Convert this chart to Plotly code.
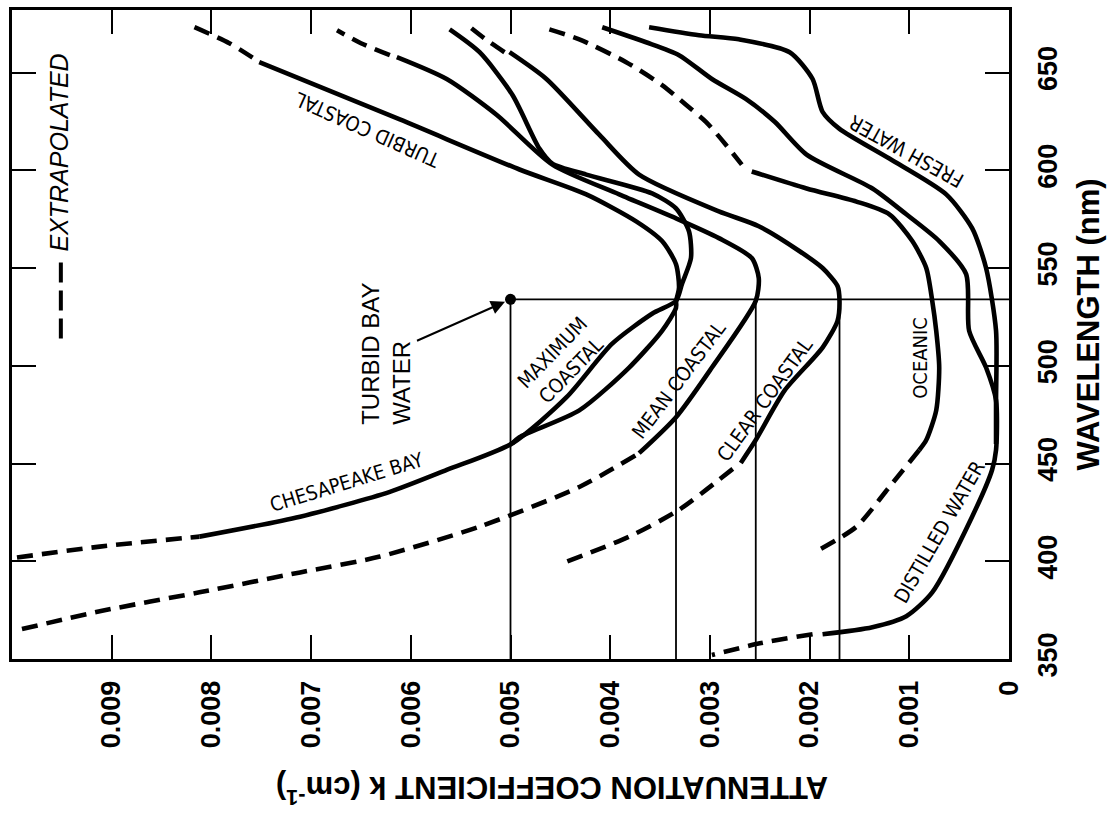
import plotly.graph_objects as go

# ---------------- axis ticks ----------------
K_TICKS = [0, 0.001, 0.002, 0.003, 0.004, 0.005, 0.006, 0.007, 0.008, 0.009]
K_TICK_TEXT = ["0", "0.001", "0.002", "0.003", "0.004", "0.005", "0.006", "0.007", "0.008", "0.009"]
NM_TICKS = [350, 400, 450, 500, 550, 600, 650]
NM_TICK_TEXT = ["350", "400", "450", "500", "550", "600", "650"]

# ---------------- curves (wavelength nm, attenuation k cm^-1) ----------------
TURBID_COASTAL_EXT_NM = [673.2, 665.0, 656.4]
TURBID_COASTAL_EXT_K = [0.00817, 0.00782, 0.00755]
TURBID_COASTAL_NM = [655.3, 626.0, 600.4, 587.7, 573.9, 563.8, 552.0, 539.8, 533.2]
TURBID_COASTAL_K = [0.00752, 0.00611, 0.00491, 0.00424, 0.00374, 0.00348, 0.00334, 0.00331, 0.00334]

CHESAPEAKE_EXT_NM = [401.9, 407.5, 412.6]
CHESAPEAKE_EXT_K = [0.00995, 0.00912, 0.00812]
CHESAPEAKE_NM = [412.6, 422.8, 435.5, 446.7, 460.4, 483.8, 511.3, 526.6, 533.2, 541.9,
                 555.1, 568.8, 580.5, 588.2, 597.8, 603.4, 611.1, 638.5, 660.4, 672.1]
CHESAPEAKE_K = [0.00812, 0.00711, 0.00621, 0.00564, 0.00498, 0.00444, 0.00398, 0.00358, 0.00334, 0.00328,
                0.00319, 0.00321, 0.00334, 0.00358, 0.00424, 0.00458, 0.00471, 0.00498, 0.00531, 0.00561]

MAX_COASTAL_NM = [460.4, 463.5, 477.2, 499.1, 517.9, 529.6, 533.2]
MAX_COASTAL_K = [0.00498, 0.00491, 0.00431, 0.00381, 0.00348, 0.00334, 0.00334]

MEAN_COASTAL_EXT_LOW_NM = [365.3, 374.4, 384.1, 394.3, 402.4, 417.7, 438.0, 454.3]
MEAN_COASTAL_EXT_LOW_K = [0.00990, 0.00912, 0.00812, 0.00711, 0.00631, 0.00531, 0.00431, 0.00374]
MEAN_COASTAL_NM = [455.3, 473.7, 499.1, 533.2, 544.9, 555.1, 565.3, 575.4, 587.7, 602.9, 628.4, 646.7, 657.9]
MEAN_COASTAL_K = [0.00371, 0.00334, 0.00298, 0.00254, 0.00251, 0.00258, 0.00291, 0.00334, 0.00391,
                  0.00458, 0.00514, 0.00564, 0.00614]
MEAN_COASTAL_EXT_HIGH_NM = [658.9, 665.0, 671.6]
MEAN_COASTAL_EXT_HIGH_K = [0.00621, 0.00650, 0.00674]

CLEAR_COASTAL_EXT_LOW_NM = [399.9, 412.6, 426.3, 447.7]
CLEAR_COASTAL_EXT_LOW_K = [0.00443, 0.00381, 0.00331, 0.00276]
CLEAR_COASTAL_NM = [450.3, 462.0, 487.4, 509.3, 523.0, 533.2, 540.8, 550.0, 558.6, 571.4, 579.0,
                    597.8, 618.2, 646.7, 660.4]
CLEAR_COASTAL_K = [0.00269, 0.00254, 0.00225, 0.00187, 0.00172, 0.00170, 0.00172, 0.00187, 0.00210,
                   0.00251, 0.00291, 0.00371, 0.00411, 0.00464, 0.00501]
CLEAR_COASTAL_EXT_HIGH_NM = [660.4, 667.0, 674.2]
CLEAR_COASTAL_EXT_HIGH_K = [0.00506, 0.00525, 0.00543]

OCEANIC_EXT_HIGH_NM = [672.1, 667.0, 655.3, 643.6, 633.5, 624.8, 613.1, 602.9]
OCEANIC_EXT_HIGH_K = [0.00461, 0.00431, 0.00384, 0.00348, 0.00324, 0.00304, 0.00284, 0.00268]
OCEANIC_NM = [599.4, 590.7, 584.0, 577.5, 563.8, 550.0, 533.2, 517.9, 499.1, 477.2, 462.0, 456.9]
OCEANIC_K = [0.00258, 0.00203, 0.00153, 0.00120, 0.00097, 0.00083, 0.00077, 0.00073, 0.00070,
             0.00073, 0.00083, 0.00090]
OCEANIC_EXT_LOW_NM = [456.9, 438.0, 417.7, 406.0]
OCEANIC_EXT_LOW_K = [0.00090, 0.00120, 0.00153, 0.00190]

FRESH_WATER_NM = [673.2, 669.1, 667.0, 660.4, 646.7, 629.9, 621.2, 606.0, 587.7, 570.4, 550.0,
                  517.9, 482.3, 460.0]
FRESH_WATER_K = [0.00361, 0.00311, 0.00271, 0.00220, 0.00197, 0.00187, 0.00170, 0.00120, 0.00063,
                 0.00037, 0.00023, 0.00013, 0.00013, 0.00013]

DISTILLED_NM = [673.2, 665.5, 658.9, 646.7, 636.5, 624.8, 608.0, 590.7, 577.5, 563.8, 546.9, 517.9,
                499.1, 482.3, 456.9, 446.7, 422.8, 384.1, 371.9, 366.3, 362.7]
DISTILLED_K = [0.00408, 0.00364, 0.00331, 0.00298, 0.00264, 0.00235, 0.00203, 0.00137, 0.00103,
               0.00070, 0.00043, 0.00040, 0.00023, 0.00013, 0.00013, 0.00017, 0.00037, 0.00077,
               0.00103, 0.00137, 0.00187]
DISTILLED_EXT_NM = [362.7, 358.0, 352.0]
DISTILLED_EXT_K = [0.00197, 0.00250, 0.00298]

# reference wavelength and k values read at that wavelength
REF_NM = 534
REF_K = [0.005, 0.00334, 0.00254, 0.00170]
TURBID_BAY_K = 0.005

# ---------------- figure ----------------
W, H = 1109, 814
ML, MR, MT, MB = 12, 100, 7, 155
DASH = "16px,9px"

fig = go.Figure()


def add_line(nm, k, dashed=False, width=4.6):
    fig.add_trace(go.Scatter(
        x=k, y=nm, mode="lines",
        line=dict(color="black", width=width, dash=DASH if dashed else "solid",
                  shape="spline", smoothing=0.7),
        hoverinfo="skip", showlegend=False))


add_line(TURBID_COASTAL_EXT_NM, TURBID_COASTAL_EXT_K, True)
add_line(TURBID_COASTAL_NM, TURBID_COASTAL_K)
add_line(CHESAPEAKE_EXT_NM, CHESAPEAKE_EXT_K, True)
add_line(CHESAPEAKE_NM, CHESAPEAKE_K)
add_line(MAX_COASTAL_NM, MAX_COASTAL_K)
add_line(MEAN_COASTAL_EXT_LOW_NM, MEAN_COASTAL_EXT_LOW_K, True)
add_line(MEAN_COASTAL_NM, MEAN_COASTAL_K)
add_line(MEAN_COASTAL_EXT_HIGH_NM, MEAN_COASTAL_EXT_HIGH_K, True)
add_line(CLEAR_COASTAL_EXT_LOW_NM, CLEAR_COASTAL_EXT_LOW_K, True)
add_line(CLEAR_COASTAL_NM, CLEAR_COASTAL_K)
add_line(CLEAR_COASTAL_EXT_HIGH_NM, CLEAR_COASTAL_EXT_HIGH_K, True)
add_line(OCEANIC_EXT_HIGH_NM, OCEANIC_EXT_HIGH_K, True)
add_line(OCEANIC_NM, OCEANIC_K)
add_line(OCEANIC_EXT_LOW_NM, OCEANIC_EXT_LOW_K, True)
add_line(FRESH_WATER_NM, FRESH_WATER_K)
add_line(DISTILLED_NM, DISTILLED_K)
add_line(DISTILLED_EXT_NM, DISTILLED_EXT_K, True)

# reference lines: horizontal at REF_NM, verticals down to 350 nm
fig.add_trace(go.Scatter(x=[TURBID_BAY_K, 0], y=[REF_NM, REF_NM], mode="lines",
                         line=dict(color="black", width=1.8), hoverinfo="skip", showlegend=False))
for kv in REF_K:
    fig.add_trace(go.Scatter(x=[kv, kv], y=[NM_TICKS[0], REF_NM], mode="lines",
                             line=dict(color="black", width=1.8), hoverinfo="skip", showlegend=False))
fig.add_trace(go.Scatter(x=[TURBID_BAY_K], y=[REF_NM], mode="markers",
                         marker=dict(color="black", size=11), hoverinfo="skip", showlegend=False))

NARROW = "Liberation Sans Narrow, Arial Narrow, DejaVu Sans Condensed, sans-serif"
SANS = "Liberation Sans, Arial, Helvetica, sans-serif"


def label(text, k, nm, angle, size=20, family=NARROW, style="normal", **kw):
    fig.add_annotation(x=k, y=nm, xref="x", yref="y", text=text, showarrow=False,
                       textangle=angle,
                       font=dict(family=family, size=size, color="black", style=style),
                       xanchor="center", yanchor="middle", **kw)


label("TURBID COASTAL", 0.00644, 620.7, -156)
label("FRESH WATER", 0.00103, 609.5, -151)
label("CHESAPEAKE BAY", 0.00664, 440.5, -17)
label("MAXIMUM<br>COASTAL", 0.00448, 502.2, -46, align="center")
label("MEAN COASTAL", 0.00331, 492.5, -53)
label("CLEAR COASTAL", 0.00245, 482.3, -54)
label("OCEANIC", 0.00090, 504.2, -90)
label("DISTILLED WATER", 0.00070, 415.1, -60)

# turbid bay water label with its arrow to the point
fig.add_annotation(x=TURBID_BAY_K, y=REF_NM, xref="x", yref="y",
                   text="TURBID BAY<br>WATER", textangle=-90, align="left",
                   font=dict(family=SANS, size=24, color="black"),
                   showarrow=True, ax=-124, ay=55, arrowhead=2, arrowsize=1.4, arrowwidth=2,
                   arrowcolor="black", standoff=6)

# legend for extrapolated segments
fig.add_shape(type="line", xref="x", yref="y", x0=0.00951, x1=0.00951, y0=514, y1=553,
              line=dict(color="black", width=4, dash="20px,8px"))
label("EXTRAPOLATED", 0.00953, 609.0, -90, size=25, family=SANS, style="italic")

# axis titles
fig.add_annotation(x=(1089 - ML) / (W - ML - MR), y=(H - MB - 323) / (H - MB - MT),
                   xref="paper", yref="paper", text="<b>WAVELENGTH (nm)</b>", showarrow=False,
                   textangle=-90, font=dict(family=SANS, size=31, color="black"),
                   xanchor="center", yanchor="middle")
fig.add_annotation(x=(552 - ML) / (W - ML - MR), y=(H - MB - 790) / (H - MB - MT),
                   xref="paper", yref="paper",
                   text="<b>ATTENUATION COEFFICIENT k (cm<sup>-1</sup>)</b>", showarrow=False,
                   textangle=180, font=dict(family=SANS, size=31, color="black"),
                   xanchor="center", yanchor="middle")

axis_common = dict(showgrid=False, zeroline=False, showline=True, linecolor="black", linewidth=3,
                   mirror="ticks", ticks="inside", ticklen=24, tickwidth=2, tickcolor="black",
                   tickangle=-90,
                   tickfont=dict(family=SANS, size=27, color="black", weight="bold"))

fig.update_layout(
    width=W, height=H, autosize=False,
    margin=dict(l=ML, r=MR, t=MT, b=MB),
    paper_bgcolor="white", plot_bgcolor="white",
    hovermode=False, showlegend=False,
    xaxis=dict(range=[0.01, 0], tickvals=K_TICKS, ticktext=K_TICK_TEXT,
               ticklabelstandoff=8, **axis_common),
    yaxis=dict(range=[350, 682], side="right", tickvals=NM_TICKS, ticktext=NM_TICK_TEXT,
               ticklabelstandoff=13, **axis_common),
)

fig.write_html("out.html", config={"displayModeBar": False},
               post_script="document.body.style.margin='0px';")
